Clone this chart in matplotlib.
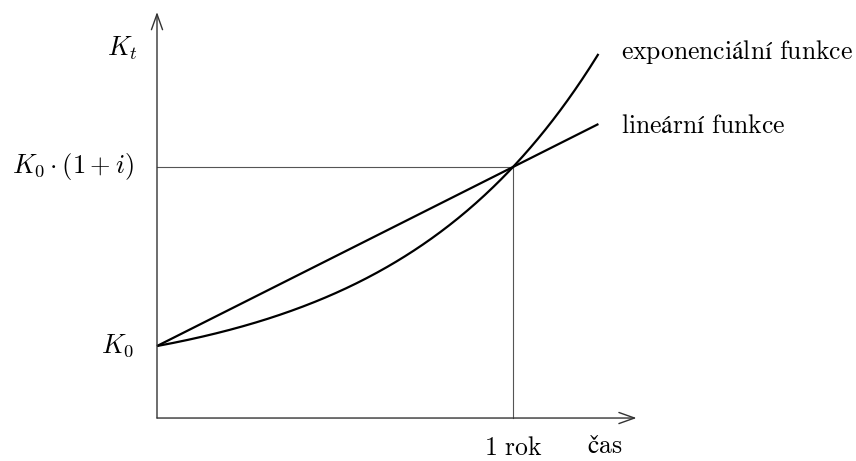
"""Exponential vs. linear growth of capital K_t over one year (schematic)."""

import matplotlib
matplotlib.use("Agg")
import matplotlib.pyplot as plt
import numpy as np

plt.rcParams["mathtext.fontset"] = "cm"
plt.rcParams["axes.unicode_minus"] = False

# ----------------------------- chart values -----------------------------
K0 = 1.0                 # starting capital (axis label K_0)
RATE_I = 4.75
T_END = 1.24             # curves run a bit past 1 rok
T_YEAR = 1.0
Y_LABELS = [r"$K_0$", r"$K_0 \cdot (1 + i)$", r"$K_t$"]
X_LABELS = ["1 rok", "čas"]
SERIES_NAMES = ["exponenciální funkce", "lineární funkce"]

# ----------------------------- layout -----------------------------
AXIS_Y = -0.91           # where the time axis sits
XLIM = (-0.441, 1.9635)
YLIM = (-2.05, 10.18)
FS = 18.5
FS_MATH = 19.0


def roman(s):
    """Set plain words in Computer Modern roman via mathtext."""
    return r"$\mathrm{" + s.replace(" ", r"\ ") + "}$"


def main():
    fig = plt.figure(figsize=(8.56, 4.61), dpi=100)
    ax = fig.add_axes([0, 0, 1, 1])
    ax.set_xlim(*XLIM)
    ax.set_ylim(*YLIM)
    ax.axis("off")

    k_year = K0 * (1 + RATE_I)
    t = np.linspace(0, T_END, 300)
    expo = K0 * (1 + RATE_I) ** t          # K_t = K_0 (1+i)^t
    lin = K0 * (1 + RATE_I * t)            # K_t = K_0 (1 + i t)

    # axes with open arrow heads
    arrow = dict(arrowstyle="->,head_length=0.7,head_width=0.25",
                 color="#333333", lw=1.0, mutation_scale=16,
                 shrinkA=0, shrinkB=0)
    ax.annotate("", xy=(1.347, AXIS_Y), xytext=(0, AXIS_Y), arrowprops=arrow)
    ax.annotate("", xy=(0, 9.86), xytext=(0, AXIS_Y), arrowprops=arrow)

    # guide lines to the point after one year
    ax.plot([0, T_YEAR], [k_year, k_year], color="#555555", lw=0.8)
    ax.plot([T_YEAR, T_YEAR], [AXIS_Y, k_year], color="#555555", lw=0.8)

    ax.plot(t, expo, color="black", lw=1.6, solid_capstyle="butt")
    ax.plot(t, lin, color="black", lw=1.6, solid_capstyle="butt")

    # labels
    ax.text(-0.065, K0, Y_LABELS[0], fontsize=FS_MATH, ha="right", va="center")
    ax.text(-0.065, k_year, Y_LABELS[1], fontsize=FS_MATH, ha="right",
            va="center")
    ax.text(-0.055, 8.91, Y_LABELS[2], fontsize=FS_MATH, ha="right",
            va="center")

    ax.text(T_YEAR, -1.70, roman(X_LABELS[0]), fontsize=FS, ha="center",
            va="center")
    ax.text(1.258, -1.66, roman(X_LABELS[1]), fontsize=FS, ha="center",
            va="center")

    ax.text(1.303, expo[-1] + 0.05, roman(SERIES_NAMES[0]), fontsize=FS,
            ha="left", va="center")
    ax.text(1.303, lin[-1] - 0.05, roman(SERIES_NAMES[1]), fontsize=FS,
            ha="left", va="center")

    fig.savefig("out.png", dpi=100, facecolor="white")


if __name__ == "__main__":
    main()
